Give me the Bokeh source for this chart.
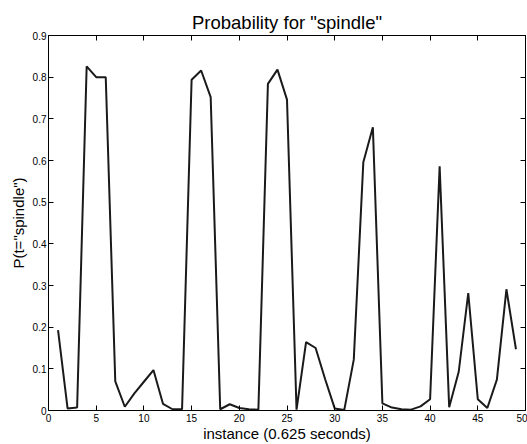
from bokeh.plotting import figure
from bokeh.models import LinearAxis, Range1d, FixedTicker
from bokeh.embed import file_html
from bokeh.resources import INLINE

instance = list(range(1, 50))
prob = [0.193, 0.005, 0.007, 0.826, 0.800, 0.800, 0.070, 0.009, 0.041, 0.069,
        0.097, 0.016, 0.003, 0.003, 0.794, 0.816, 0.752, 0.003, 0.015, 0.006,
        0.003, 0.002, 0.784, 0.818, 0.746, 0.002, 0.164, 0.150, 0.075, 0.005,
        0.001, 0.122, 0.596, 0.680, 0.017, 0.007, 0.003, 0.002, 0.010, 0.027,
        0.586, 0.008, 0.093, 0.282, 0.027, 0.006, 0.074, 0.291, 0.147]

x_ticks = [0, 5, 10, 15, 20, 25, 30, 35, 40, 45, 50]
y_ticks = [0, 0.1, 0.2, 0.3, 0.4, 0.5, 0.6, 0.7, 0.8, 0.9]
y_labels = {0: "0", 0.1: "0.1", 0.2: "0.2", 0.3: "0.3", 0.4: "0.4",
            0.5: "0.5", 0.6: "0.6", 0.7: "0.7", 0.8: "0.8", 0.9: "0.9"}

FONT = "Liberation Sans"

p = figure(width=527, height=444,
           x_range=Range1d(0, 50), y_range=Range1d(0, 0.9),
           output_backend="svg", toolbar_location=None,
           title='Probability for "spindle"',
           min_border_left=48, min_border_right=2,
           min_border_top=35, min_border_bottom=34,
           background_fill_color="white", border_fill_color="white")

p.grid.visible = False
p.outline_line_color = "black"
p.outline_line_width = 1

p.title.text_font = FONT
p.title.text_font_size = "18.5px"
p.title.text_font_style = "normal"
p.title.text_color = "black"
p.title.align = "center"
p.title.standoff = 5

p.line(instance, prob, line_color="#1a1a1a", line_width=2)

def style(ax):
    ax.axis_line_color = "black"
    ax.major_tick_in = 5
    ax.major_tick_out = 0
    ax.minor_tick_line_color = None
    ax.major_tick_line_color = "black"
    ax.major_label_text_font = FONT
    ax.major_label_text_font_size = "10px"
    ax.major_label_text_color = "black"
    ax.axis_label_text_font = FONT
    ax.axis_label_text_font_size = "15px"
    ax.axis_label_text_font_style = "normal"
    ax.axis_label_text_color = "black"

p.xaxis.ticker = FixedTicker(ticks=x_ticks)
p.yaxis.ticker = FixedTicker(ticks=y_ticks)
p.yaxis.major_label_overrides = y_labels
p.xaxis.axis_label = "instance (0.625 seconds)"
p.yaxis.axis_label = 'P(t="spindle")'
for ax in p.xaxis + p.yaxis:
    style(ax)
p.xaxis.major_label_standoff = 3
p.yaxis.major_label_standoff = 2
p.xaxis.axis_label_standoff = 0
p.yaxis.axis_label_standoff = 3

top = LinearAxis(ticker=FixedTicker(ticks=x_ticks))
right = LinearAxis(ticker=FixedTicker(ticks=y_ticks))
for ax, ticks in ((top, x_ticks), (right, y_ticks)):
    style(ax)
    ax.major_label_overrides = {t: "" for t in ticks}
    ax.major_label_standoff = 0
    ax.axis_label_standoff = 0
    ax.major_label_text_font_size = "1px"
    ax.axis_label_text_font_size = "1px"
p.add_layout(top, "above")
p.add_layout(right, "right")

open("out.html", "w").write(file_html(p, INLINE))
